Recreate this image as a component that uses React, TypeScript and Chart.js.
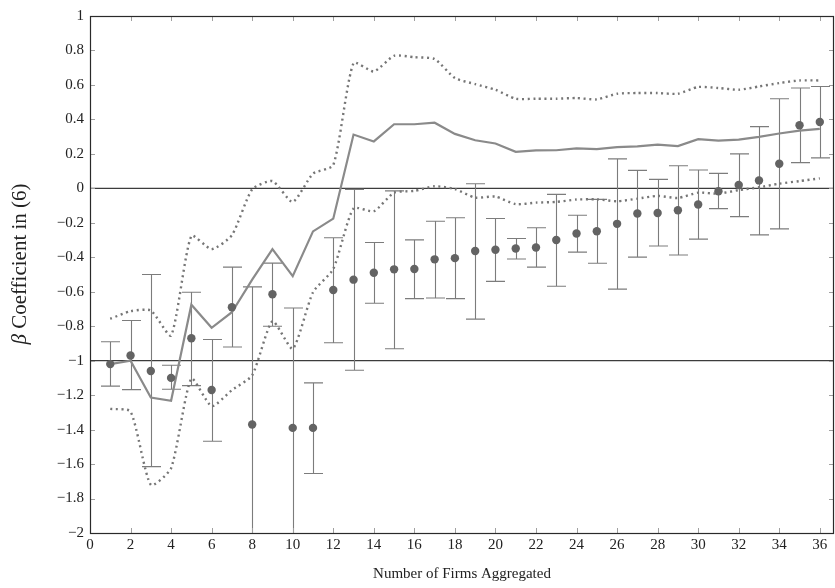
import React, { useEffect, useRef } from "react";
import { Chart, registerables } from "chart.js";

Chart.register(...registerables);

const firms = [1, 2, 3, 4, 5, 6, 7, 8, 9, 10, 11, 12, 13, 14, 15, 16, 17, 18, 19, 20, 21, 22, 23, 24, 25, 26, 27, 28, 29, 30, 31, 32, 33, 34, 35, 36];

const beta = [-1.02, -0.97, -1.06, -1.1, -0.87, -1.17, -0.69, -1.37, -0.615, -1.39, -1.39, -0.59, -0.53, -0.49, -0.47, -0.468, -0.412, -0.405, -0.364, -0.356, -0.349, -0.343, -0.3, -0.262, -0.249, -0.206, -0.146, -0.143, -0.127, -0.094, -0.017, 0.019, 0.046, 0.143, 0.366, 0.385];

const betaHigh = [-0.89, -0.767, -0.5, -1.027, -0.603, -0.877, -0.457, -0.572, -0.434, -0.694, -1.129, -0.287, -0.006, -0.314, -0.015, -0.299, -0.191, -0.171, 0.027, -0.175, -0.291, -0.229, -0.035, -0.156, -0.064, 0.171, 0.104, 0.052, 0.131, 0.106, 0.087, 0.2, 0.358, 0.52, 0.582, 0.591];

const betaLow = [-1.148, -1.168, -1.615, -1.166, -1.145, -1.468, -0.921, -2.17, -0.8, -2.09, -1.655, -0.896, -1.056, -0.667, -0.931, -0.64, -0.636, -0.64, -0.759, -0.54, -0.41, -0.457, -0.568, -0.37, -0.435, -0.585, -0.399, -0.335, -0.387, -0.295, -0.118, -0.164, -0.27, -0.235, 0.149, 0.177];

const aggregate = [-1.02, -1.0, -1.214, -1.233, -0.675, -0.809, -0.719, -0.53, -0.353, -0.51, -0.25, -0.176, 0.312, 0.272, 0.372, 0.372, 0.381, 0.316, 0.279, 0.26, 0.212, 0.22, 0.221, 0.232, 0.227, 0.239, 0.243, 0.254, 0.245, 0.285, 0.277, 0.283, 0.299, 0.318, 0.335, 0.345];

const upperBand = [-0.757, -0.713, -0.709, -0.854, -0.276, -0.353, -0.272, -0.006, 0.042, -0.079, 0.085, 0.135, 0.727, 0.678, 0.769, 0.761, 0.75, 0.64, 0.605, 0.572, 0.52, 0.52, 0.52, 0.524, 0.516, 0.549, 0.553, 0.553, 0.549, 0.588, 0.582, 0.572, 0.591, 0.611, 0.626, 0.626];

const lowerBand = [-1.28, -1.295, -1.721, -1.624, -1.104, -1.264, -1.171, -1.085, -0.771, -0.931, -0.603, -0.468, -0.116, -0.133, -0.025, -0.015, 0.012, -0.004, -0.054, -0.048, -0.092, -0.083, -0.079, -0.065, -0.064, -0.075, -0.06, -0.044, -0.056, -0.025, -0.031, -0.01, 0.006, 0.027, 0.042, 0.058];

const xTicks = [0, 2, 4, 6, 8, 10, 12, 14, 16, 18, 20, 22, 24, 26, 28, 30, 32, 34, 36];
const yTicks = [-2, -1.8, -1.6, -1.4, -1.2, -1, -0.8, -0.6, -0.4, -0.2, 0, 0.2, 0.4, 0.6, 0.8, 1];
const refLines = [0, -1];

const xTitle = "Number of Firms Aggregated";
const yTitleSymbol = "β";
const yTitleRest = " Coefficient in (6)";

const FONT = "'Liberation Serif', 'DejaVu Serif', serif";

function fmtY(v: number): string {
  if (Math.abs(v) < 1e-9) return "0";
  const r = Math.round(v * 10) / 10;
  const s = Number.isInteger(r) ? String(Math.abs(r)) : Math.abs(r).toFixed(1);
  return (r < 0 ? "\u2212" : "") + s;
}

export default function App() {
  const ref = useRef<HTMLCanvasElement | null>(null);

  useEffect(() => {
    const canvas = ref.current;
    if (!canvas) return;

    const pts = (arr: number[]) => firms.map((f, i) => ({ x: f, y: arr[i] }));

    const backgroundPlugin = {
      id: "refAndErrors",
      beforeDatasetsDraw(chart: any) {
        const { ctx, chartArea, scales } = chart;
        const xs = scales.x;
        const ys = scales.y;
        ctx.save();
        ctx.beginPath();
        ctx.rect(chartArea.left, chartArea.top, chartArea.right - chartArea.left, chartArea.bottom - chartArea.top);
        ctx.clip();
        ctx.strokeStyle = "#3c3c3c";
        ctx.lineWidth = 1.2;
        refLines.forEach((v) => {
          const py = ys.getPixelForValue(v);
          ctx.beginPath();
          ctx.moveTo(chartArea.left, py);
          ctx.lineTo(chartArea.right, py);
          ctx.stroke();
        });
        ctx.strokeStyle = "#7c7c7c";
        ctx.lineWidth = 1.1;
        firms.forEach((f, i) => {
          const px = Math.round(xs.getPixelForValue(f)) + 0.5;
          const yt = ys.getPixelForValue(betaHigh[i]);
          const yb = ys.getPixelForValue(betaLow[i]);
          ctx.beginPath();
          ctx.moveTo(px, yt);
          ctx.lineTo(px, yb);
          ctx.moveTo(px - 9.5, yt);
          ctx.lineTo(px + 9.5, yt);
          ctx.moveTo(px - 9.5, yb);
          ctx.lineTo(px + 9.5, yb);
          ctx.stroke();
        });
        ctx.restore();
      },
      afterDraw(chart: any) {
        const { ctx, chartArea, scales } = chart;
        const xs = scales.x;
        const ys = scales.y;
        ctx.save();
        ctx.strokeStyle = "#a0a0a0";
        ctx.lineWidth = 1;
        const tl = 5;
        xTicks.forEach((v) => {
          const px = Math.round(xs.getPixelForValue(v)) + 0.5;
          ctx.beginPath();
          ctx.moveTo(px, chartArea.bottom);
          ctx.lineTo(px, chartArea.bottom - tl);
          ctx.moveTo(px, chartArea.top);
          ctx.lineTo(px, chartArea.top + tl);
          ctx.stroke();
        });
        yTicks.forEach((v) => {
          const py = Math.round(ys.getPixelForValue(v)) + 0.5;
          ctx.beginPath();
          ctx.moveTo(chartArea.left, py);
          ctx.lineTo(chartArea.left + tl, py);
          ctx.moveTo(chartArea.right, py);
          ctx.lineTo(chartArea.right - tl, py);
          ctx.stroke();
        });
        ctx.strokeStyle = "#2a2a2a";
        ctx.lineWidth = 1.2;
        ctx.strokeRect(
          Math.round(chartArea.left) + 0.5,
          Math.round(chartArea.top) + 0.5,
          Math.round(chartArea.right - chartArea.left) - 1,
          Math.round(chartArea.bottom - chartArea.top)
        );

        const size = 21;
        const italic = `italic ${size}px ${FONT}`;
        const normal = `${size}px ${FONT}`;
        ctx.font = italic;
        const w1 = ctx.measureText(yTitleSymbol).width;
        ctx.font = normal;
        const w2 = ctx.measureText(yTitleRest).width;
        const total = w1 + w2;
        ctx.translate(20, 264);
        ctx.rotate(-Math.PI / 2);
        ctx.fillStyle = "#222";
        ctx.textBaseline = "middle";
        ctx.textAlign = "left";
        ctx.font = italic;
        ctx.fillText(yTitleSymbol, -total / 2, 0);
        ctx.font = normal;
        ctx.fillText(yTitleRest, -total / 2 + w1, 0);
        ctx.restore();
      },
    };

    const chart = new Chart(canvas, {
      type: "line",
      data: {
        datasets: [
          {
            label: "Firm-level β",
            data: pts(beta),
            showLine: false,
            pointRadius: 4.2,
            pointBackgroundColor: "#636363",
            pointBorderColor: "#636363",
            pointBorderWidth: 0,
            order: 0,
          },
          {
            label: "Aggregate",
            data: pts(aggregate),
            borderColor: "#8a8a8a",
            borderWidth: 2.2,
            pointRadius: 0,
            fill: false,
            tension: 0,
            order: 1,
          },
          {
            label: "Upper",
            data: pts(upperBand),
            borderColor: "#767676",
            borderWidth: 2.4,
            borderDash: [2, 3.6],
            pointRadius: 0,
            fill: false,
            tension: 0.2,
            order: 2,
          },
          {
            label: "Lower",
            data: pts(lowerBand),
            borderColor: "#767676",
            borderWidth: 2.4,
            borderDash: [2, 3.6],
            pointRadius: 0,
            fill: false,
            tension: 0.2,
            order: 3,
          },
        ],
      },
      options: {
        responsive: false,
        maintainAspectRatio: false,
        animation: false,
        devicePixelRatio: 1,
        layout: { autoPadding: false, padding: { top: 16, right: 1, left: 0, bottom: 0 } },
        plugins: {
          legend: { display: false },
          tooltip: { enabled: false },
        },
        scales: {
          x: {
            type: "linear",
            min: 0,
            max: 36.7,
            grid: { display: false, drawTicks: false },
            border: { display: false },
            afterBuildTicks: (s: any) => {
              s.ticks = xTicks.map((v) => ({ value: v }));
            },
            afterFit: (s: any) => {
              s.height = 55;
              s.paddingRight = 0;
              s.paddingLeft = 0;
            },
            ticks: {
              autoSkip: false,
              maxRotation: 0,
              padding: 3,
              color: "#222",
              font: { family: FONT, size: 15 },
              callback: (v: any) => String(v),
            },
            title: {
              display: true,
              text: xTitle,
              color: "#222",
              font: { family: FONT, size: 15 },
              padding: { top: 0, bottom: 5 },
            },
          },
          y: {
            type: "linear",
            min: -2,
            max: 1,
            grid: { display: false, drawTicks: false },
            border: { display: false },
            afterBuildTicks: (s: any) => {
              s.ticks = yTicks.map((v) => ({ value: v }));
            },
            afterFit: (s: any) => {
              s.width = 90;
              s.paddingTop = 0;
              s.paddingBottom = 0;
            },
            ticks: {
              autoSkip: false,
              padding: 6,
              color: "#222",
              font: { family: FONT, size: 15 },
              callback: (v: any) => fmtY(Number(v)),
            },
            title: { display: false },
          },
        },
      },
      plugins: [backgroundPlugin],
    } as any);

    return () => {
      chart.destroy();
    };
  }, []);

  return (
    <canvas
      ref={ref}
      width={835}
      height={588}
      style={{ position: "fixed", left: 0, top: 0, width: 835, height: 588, background: "#fff" }}
    />
  );
}
